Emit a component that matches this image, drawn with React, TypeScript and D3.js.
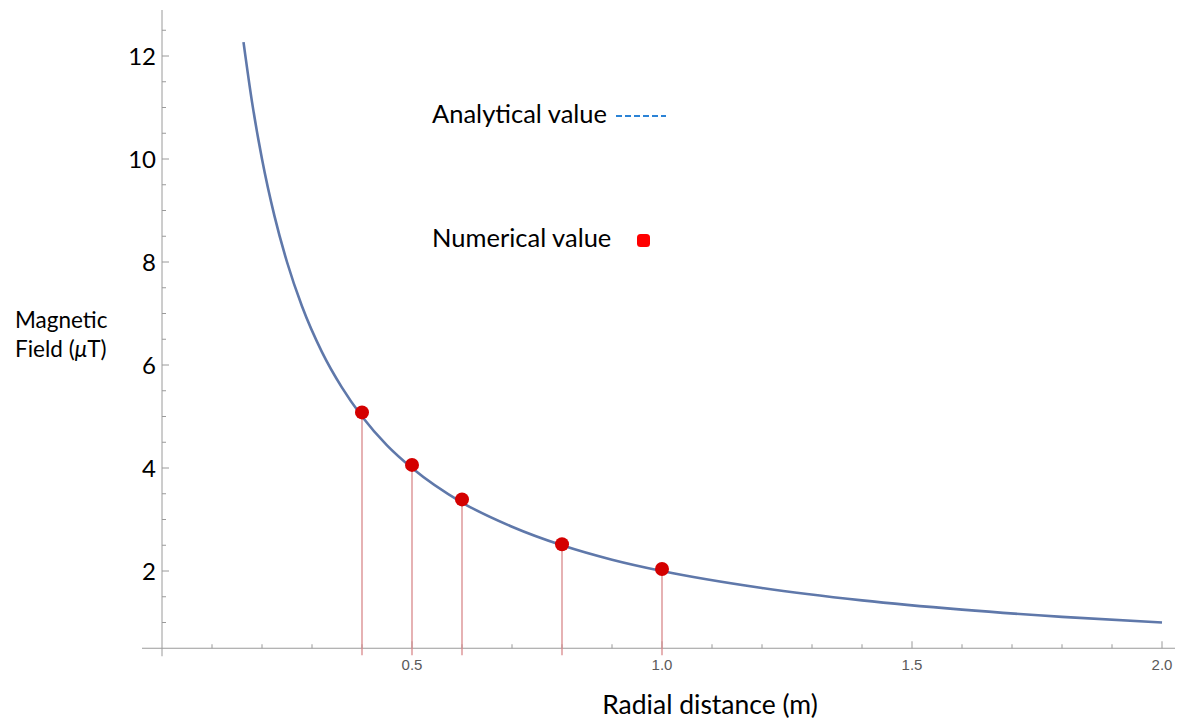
import React from "react";
import * as d3 from "d3";

const curveR = [0.163, 0.18, 0.2, 0.225, 0.25, 0.28, 0.32, 0.36, 0.4, 0.45, 0.5, 0.6, 0.7, 0.8, 0.9, 1.0, 1.2, 1.4, 1.6, 1.8, 2.0];
const curveB = [12.27, 11.11, 10.0, 8.89, 8.0, 7.14, 6.25, 5.56, 5.0, 4.44, 4.0, 3.33, 2.86, 2.5, 2.22, 2.0, 1.67, 1.43, 1.25, 1.11, 1.0];

const pointR = [0.4, 0.5, 0.6, 0.8, 1.0];
const pointB = [5.08, 4.06, 3.39, 2.52, 2.04];

const yTicks = [2, 4, 6, 8, 10, 12];
const yMinor = [1, 1.5, 2.5, 3, 3.5, 4.5, 5, 5.5, 6.5, 7, 7.5, 8.5, 9, 9.5, 10.5, 11, 11.5, 12.5];
const xTicks = [0.5, 1.0, 1.5, 2.0];
const xMinor = [0.1, 0.2, 0.3, 0.4, 0.6, 0.7, 0.8, 0.9, 1.1, 1.2, 1.3, 1.4, 1.6, 1.7, 1.8, 1.9];

export default function App() {
  const W = 1178, H = 721;
  const x = d3.scaleLinear().domain([0, 2]).range([162, 1162]);
  const y = d3.scaleLinear().domain([2, 12]).range([571, 56]);
  const y0 = y(0.5);

  const line = d3
    .line<number>()
    .x((_, i) => x(curveR[i]))
    .y((d) => y(d))
    .curve(d3.curveMonotoneX);

  const font = "Lato, 'Open Sans', sans-serif";
  const axisColor = "#9a9a9a";

  return (
    <svg width={W} height={H} style={{ position: "absolute", left: 0, top: 0, background: "#fff" }}>
      {/* axes */}
      <line x1={142} x2={1175} y1={y0} y2={y0} stroke={axisColor} strokeWidth={1} />
      <line x1={x(0)} x2={x(0)} y1={10} y2={y0 + 8} stroke={axisColor} strokeWidth={1} />
      {yTicks.map((t) => (
        <g key={"yt" + t}>
          <line x1={x(0)} x2={x(0) + 7} y1={y(t)} y2={y(t)} stroke={axisColor} />
          <text x={x(0) - 6} y={y(t)} dy="0.36em" textAnchor="end" fontFamily={font} fontSize={24} fill="#000">
            {t}
          </text>
        </g>
      ))}
      {yMinor.map((t) => (
        <line key={"ym" + t} x1={x(0)} x2={x(0) + 4} y1={y(t)} y2={y(t)} stroke={axisColor} />
      ))}
      {xTicks.map((t) => (
        <g key={"xt" + t}>
          <line x1={x(t)} x2={x(t)} y1={y0} y2={y0 - 7} stroke={axisColor} />
          <text x={x(t)} y={y0 + 22} textAnchor="middle" fontFamily="'Liberation Sans', Arial, sans-serif" fontSize={15} fill="#5a5a5a">
            {t.toFixed(1)}
          </text>
        </g>
      ))}
      {xMinor.map((t) => (
        <line key={"xm" + t} x1={x(t)} x2={x(t)} y1={y0} y2={y0 - 4} stroke={axisColor} />
      ))}

      {/* stems */}
      {pointR.map((r, i) => (
        <line key={"s" + r} x1={x(r)} x2={x(r)} y1={y(pointB[i])} y2={y0 + 7} stroke="#d9898b" strokeWidth={1.3} />
      ))}

      {/* analytic curve */}
      <path d={line(curveB) || ""} fill="none" stroke="#5f78aa" strokeWidth={2.6} />

      {/* numerical points */}
      {pointR.map((r, i) => (
        <circle key={"p" + r} cx={x(r)} cy={y(pointB[i])} r={7} fill="#d40000" />
      ))}

      {/* legend */}
      <text x={432} y={123} fontFamily={font} fontSize={25.5} fill="#000">Analytical value</text>
      <line x1={616} x2={666} y1={116} y2={116} stroke="#2b83d6" strokeWidth={1.8} strokeDasharray="6,3" />
      <text x={432} y={247} fontFamily={font} fontSize={25.5} fill="#000">Numerical value</text>
      <rect x={637} y={234} width={13} height={13} rx={3.5} fill="#ff0000" />

      {/* axis labels */}
      <text x={710} y={714} textAnchor="middle" fontFamily={font} fontSize={26.5} fill="#000">Radial distance (m)</text>
      <text x={15} y={328} fontFamily={font} fontSize={22.5} fill="#000">Magnetic</text>
      <text x={15} y={357} fontFamily={font} fontSize={22.5} fill="#000">
        Field (<tspan fontStyle="italic">μ</tspan>T)
      </text>
    </svg>
  );
}
